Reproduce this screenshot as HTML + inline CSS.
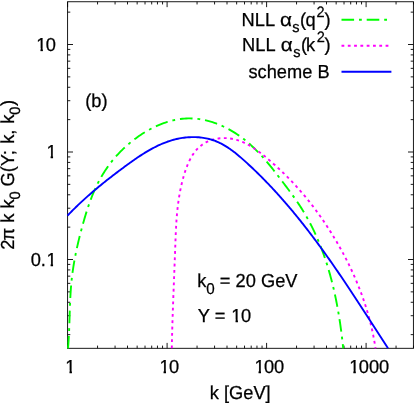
<!DOCTYPE html>
<html><head><meta charset="utf-8"><style>
html,body{margin:0;padding:0;background:#fff;overflow:hidden;}
svg{display:block;will-change:transform;opacity:0.999;font-family:"Liberation Sans",sans-serif;font-size:18.25px;fill:#000;text-rendering:geometricPrecision;}
.sub{font-size:14.6px;}.sub0{font-size:15.2px;}
</style></head><body>
<svg width="414" height="404" viewBox="0 0 414 404">
<defs><clipPath id="c1"><path d="M-2 -20H14V-2.4H6.6V1H4.2V-2.4H-2Z"/></clipPath></defs>
<rect width="414" height="404" fill="#fff"/>
<g fill="none" stroke="#000" stroke-width="0.9">
<rect x="67.6" y="1.75" width="345.80" height="346.55"/>
<path d="M67.60 348.30 v-5.40 M67.60 1.75 v5.40 M97.55 348.30 v-2.70 M97.55 1.75 v2.70 M115.07 348.30 v-2.70 M115.07 1.75 v2.70 M127.50 348.30 v-2.70 M127.50 1.75 v2.70 M137.15 348.30 v-2.70 M137.15 1.75 v2.70 M145.03 348.30 v-2.70 M145.03 1.75 v2.70 M151.69 348.30 v-2.70 M151.69 1.75 v2.70 M157.46 348.30 v-2.70 M157.46 1.75 v2.70 M162.55 348.30 v-2.70 M162.55 1.75 v2.70 M167.10 348.30 v-5.40 M167.10 1.75 v5.40 M197.05 348.30 v-2.70 M197.05 1.75 v2.70 M214.57 348.30 v-2.70 M214.57 1.75 v2.70 M227.00 348.30 v-2.70 M227.00 1.75 v2.70 M236.65 348.30 v-2.70 M236.65 1.75 v2.70 M244.53 348.30 v-2.70 M244.53 1.75 v2.70 M251.19 348.30 v-2.70 M251.19 1.75 v2.70 M256.96 348.30 v-2.70 M256.96 1.75 v2.70 M262.05 348.30 v-2.70 M262.05 1.75 v2.70 M266.60 348.30 v-5.40 M266.60 1.75 v5.40 M296.55 348.30 v-2.70 M296.55 1.75 v2.70 M314.07 348.30 v-2.70 M314.07 1.75 v2.70 M326.50 348.30 v-2.70 M326.50 1.75 v2.70 M336.15 348.30 v-2.70 M336.15 1.75 v2.70 M344.03 348.30 v-2.70 M344.03 1.75 v2.70 M350.69 348.30 v-2.70 M350.69 1.75 v2.70 M356.46 348.30 v-2.70 M356.46 1.75 v2.70 M361.55 348.30 v-2.70 M361.55 1.75 v2.70 M366.10 348.30 v-5.40 M366.10 1.75 v5.40 M396.05 348.30 v-2.70 M396.05 1.75 v2.70 M413.57 348.30 v-2.70 M413.57 1.75 v2.70 M67.60 334.64 h2.70 M413.40 334.64 h-2.70 M67.60 315.71 h2.70 M413.40 315.71 h-2.70 M67.60 302.28 h2.70 M413.40 302.28 h-2.70 M67.60 291.86 h2.70 M413.40 291.86 h-2.70 M67.60 283.35 h2.70 M413.40 283.35 h-2.70 M67.60 276.15 h2.70 M413.40 276.15 h-2.70 M67.60 269.92 h2.70 M413.40 269.92 h-2.70 M67.60 264.42 h2.70 M413.40 264.42 h-2.70 M67.60 259.50 h5.40 M413.40 259.50 h-5.40 M67.60 227.14 h2.70 M413.40 227.14 h-2.70 M67.60 208.21 h2.70 M413.40 208.21 h-2.70 M67.60 194.78 h2.70 M413.40 194.78 h-2.70 M67.60 184.36 h2.70 M413.40 184.36 h-2.70 M67.60 175.85 h2.70 M413.40 175.85 h-2.70 M67.60 168.65 h2.70 M413.40 168.65 h-2.70 M67.60 162.42 h2.70 M413.40 162.42 h-2.70 M67.60 156.92 h2.70 M413.40 156.92 h-2.70 M67.60 152.00 h5.40 M413.40 152.00 h-5.40 M67.60 119.64 h2.70 M413.40 119.64 h-2.70 M67.60 100.71 h2.70 M413.40 100.71 h-2.70 M67.60 87.28 h2.70 M413.40 87.28 h-2.70 M67.60 76.86 h2.70 M413.40 76.86 h-2.70 M67.60 68.35 h2.70 M413.40 68.35 h-2.70 M67.60 61.15 h2.70 M413.40 61.15 h-2.70 M67.60 54.92 h2.70 M413.40 54.92 h-2.70 M67.60 49.42 h2.70 M413.40 49.42 h-2.70 M67.60 44.50 h5.40 M413.40 44.50 h-5.40 M67.60 12.14 h2.70 M413.40 12.14 h-2.70"/>
</g>
<g fill="none" stroke-width="1.9">
<path d="M68.00 348.40 L68.16 346.45 L68.32 344.51 L68.45 342.56 L68.58 340.61 L68.70 338.66 L68.81 336.71 L68.91 334.76 L69.01 332.81 L69.09 330.86 L69.17 328.91 L69.25 326.95 L69.32 325.00 L69.39 323.05 L69.45 321.09 L69.52 319.14 L69.58 317.19 L69.64 315.23 L69.70 313.28 L69.76 311.33 L69.83 309.38 L69.90 307.42 L69.97 305.47 L70.05 303.52 L70.13 301.57 L70.22 299.62 L70.31 297.67 L70.42 295.73 L70.53 293.78 L70.65 291.83 L70.78 289.89 L70.92 287.95 L71.08 286.01 L71.24 284.07 L71.42 282.13 L71.62 280.19 L71.83 278.25 L72.05 276.32 L72.29 274.39 L72.54 272.46 L72.81 270.53 L73.10 268.60 L73.39 266.67 L73.70 264.75 L74.02 262.83 L74.36 260.91 L74.70 258.99 L75.06 257.07 L75.43 255.15 L75.82 253.24 L76.21 251.32 L76.62 249.41 L77.03 247.50 L77.46 245.59 L77.89 243.68 L78.34 241.78 L78.80 239.87 L79.26 237.97 L79.73 236.07 L80.22 234.17 L80.71 232.27 L81.21 230.37 L81.71 228.47 L82.23 226.58 L82.75 224.68 L83.28 222.79 L83.81 220.90 L84.36 219.01 L84.91 217.13 L85.48 215.25 L86.05 213.37 L86.64 211.50 L87.24 209.63 L87.85 207.77 L88.47 205.92 L89.11 204.07 L89.77 202.23 L90.44 200.40 L91.12 198.58 L91.83 196.77 L92.55 194.96 L93.29 193.17 L94.04 191.39 L94.82 189.62 L95.62 187.86 L96.44 186.11 L97.28 184.38 L98.15 182.66 L99.03 180.96 L99.95 179.26 L100.88 177.59 L101.84 175.93 L102.83 174.28 L103.84 172.65 L104.87 171.04 L105.93 169.44 L107.02 167.85 L108.13 166.29 L109.26 164.73 L110.42 163.19 L111.61 161.67 L112.82 160.17 L114.06 158.68 L115.32 157.20 L116.61 155.74 L117.93 154.30 L119.27 152.87 L120.64 151.46 L122.03 150.07 L123.45 148.69 L124.90 147.33 L126.37 145.99 L127.87 144.67 L129.39 143.37 L130.93 142.09 L132.49 140.83 L134.07 139.60 L135.68 138.39 L137.30 137.21 L138.95 136.05 L140.61 134.92 L142.29 133.82 L143.99 132.75 L145.70 131.71 L147.43 130.70 L149.18 129.72 L150.94 128.78 L152.71 127.87 L154.49 126.99 L156.29 126.16 L158.10 125.35 L159.92 124.59 L161.75 123.87 L163.59 123.19 L165.44 122.54 L167.30 121.95 L169.17 121.39 L171.04 120.88 L172.91 120.41 L174.80 119.99 L176.69 119.62 L178.58 119.29 L180.47 119.02 L182.37 118.79 L184.27 118.61 L186.17 118.49 L188.07 118.42 L189.97 118.40 L191.87 118.44 L193.77 118.54 L195.67 118.68 L197.56 118.88 L199.45 119.12 L201.34 119.42 L203.22 119.77 L205.09 120.16 L206.96 120.60 L208.82 121.09 L210.67 121.62 L212.52 122.19 L214.35 122.81 L216.18 123.46 L217.99 124.16 L219.79 124.90 L221.58 125.68 L223.36 126.49 L225.12 127.34 L226.87 128.23 L228.61 129.15 L230.32 130.11 L232.03 131.10 L233.71 132.12 L235.38 133.17 L237.02 134.25 L238.65 135.36 L240.26 136.49 L241.85 137.66 L243.41 138.85 L244.96 140.06 L246.48 141.30 L247.98 142.56 L249.46 143.84 L250.92 145.14 L252.35 146.46 L253.77 147.81 L255.17 149.17 L256.56 150.55 L257.93 151.95 L259.28 153.36 L260.61 154.79 L261.93 156.23 L263.24 157.69 L264.53 159.16 L265.82 160.64 L267.09 162.14 L268.35 163.64 L269.60 165.15 L270.84 166.68 L272.07 168.21 L273.29 169.75 L274.51 171.29 L275.71 172.84 L276.92 174.40 L278.12 175.96 L279.31 177.52 L280.50 179.08 L281.69 180.65 L282.87 182.21 L284.06 183.78 L285.24 185.35 L286.42 186.91 L287.60 188.48 L288.77 190.05 L289.93 191.63 L291.09 193.20 L292.24 194.78 L293.38 196.37 L294.52 197.96 L295.64 199.55 L296.75 201.15 L297.84 202.76 L298.93 204.37 L300.00 206.00 L301.05 207.63 L302.09 209.27 L303.11 210.92 L304.12 212.58 L305.11 214.25 L306.08 215.93 L307.04 217.62 L307.98 219.31 L308.91 221.01 L309.82 222.72 L310.72 224.44 L311.60 226.17 L312.46 227.91 L313.31 229.65 L314.15 231.40 L314.97 233.16 L315.78 234.92 L316.57 236.69 L317.35 238.47 L318.12 240.26 L318.87 242.05 L319.61 243.85 L320.33 245.65 L321.05 247.46 L321.74 249.28 L322.43 251.10 L323.10 252.93 L323.76 254.76 L324.41 256.60 L325.04 258.45 L325.66 260.29 L326.27 262.15 L326.87 264.01 L327.45 265.87 L328.02 267.74 L328.58 269.61 L329.13 271.49 L329.67 273.37 L330.20 275.25 L330.71 277.14 L331.22 279.04 L331.71 280.93 L332.20 282.83 L332.67 284.73 L333.13 286.64 L333.58 288.54 L334.02 290.46 L334.45 292.37 L334.87 294.28 L335.29 296.20 L335.69 298.12 L336.08 300.04 L336.46 301.97 L336.84 303.89 L337.20 305.82 L337.56 307.75 L337.90 309.68 L338.24 311.61 L338.57 313.54 L338.89 315.47 L339.21 317.41 L339.51 319.34 L339.81 321.27 L340.10 323.21 L340.38 325.14 L340.65 327.08 L340.92 329.01 L341.18 330.94 L341.43 332.87 L341.67 334.81 L341.91 336.74 L342.14 338.67 L342.37 340.60 L342.58 342.53 L342.79 344.45 L343.00 346.38 L343.20 348.30" stroke="#00ff00" stroke-dasharray="12.6 4.9 2.8 4.9"/>
<path d="M171.80 348.30 L171.83 346.63 L171.86 344.95 L171.90 343.28 L171.93 341.60 L171.97 339.92 L172.01 338.24 L172.05 336.56 L172.09 334.87 L172.14 333.19 L172.18 331.50 L172.23 329.82 L172.28 328.13 L172.33 326.44 L172.38 324.75 L172.43 323.06 L172.48 321.37 L172.53 319.67 L172.59 317.98 L172.64 316.29 L172.70 314.59 L172.76 312.90 L172.82 311.20 L172.88 309.50 L172.94 307.81 L173.00 306.11 L173.06 304.41 L173.12 302.71 L173.18 301.02 L173.24 299.32 L173.31 297.62 L173.37 295.92 L173.44 294.22 L173.50 292.52 L173.57 290.83 L173.63 289.13 L173.70 287.43 L173.77 285.73 L173.83 284.03 L173.90 282.34 L173.96 280.64 L174.03 278.94 L174.10 277.25 L174.16 275.55 L174.23 273.86 L174.30 272.16 L174.36 270.47 L174.43 268.78 L174.49 267.08 L174.56 265.39 L174.62 263.70 L174.69 262.01 L174.75 260.32 L174.82 258.64 L174.88 256.95 L174.94 255.27 L175.01 253.58 L175.07 251.90 L175.13 250.22 L175.19 248.54 L175.25 246.86 L175.31 245.18 L175.37 243.51 L175.43 241.83 L175.49 240.16 L175.55 238.49 L175.62 236.82 L175.69 235.15 L175.76 233.48 L175.83 231.81 L175.91 230.14 L176.00 228.47 L176.09 226.80 L176.18 225.13 L176.28 223.47 L176.39 221.80 L176.50 220.13 L176.63 218.47 L176.76 216.80 L176.90 215.13 L177.04 213.47 L177.20 211.80 L177.37 210.13 L177.55 208.46 L177.74 206.79 L177.94 205.12 L178.15 203.45 L178.38 201.78 L178.61 200.11 L178.87 198.44 L179.13 196.76 L179.41 195.09 L179.71 193.41 L180.02 191.73 L180.34 190.05 L180.68 188.37 L181.04 186.69 L181.42 185.01 L181.81 183.32 L182.23 181.64 L182.66 179.95 L183.11 178.26 L183.58 176.57 L184.07 174.87 L184.58 173.19 L185.12 171.51 L185.68 169.83 L186.27 168.18 L186.89 166.54 L187.54 164.91 L188.22 163.31 L188.93 161.74 L189.68 160.19 L190.47 158.67 L191.29 157.19 L192.14 155.74 L193.04 154.34 L193.98 152.97 L194.97 151.66 L195.99 150.39 L197.07 149.18 L198.19 148.02 L199.36 146.92 L200.58 145.88 L201.85 144.90 L203.18 144.00 L204.55 143.15 L205.96 142.37 L207.42 141.66 L208.91 141.01 L210.43 140.43 L211.99 139.92 L213.57 139.47 L215.18 139.08 L216.81 138.76 L218.45 138.50 L220.11 138.31 L221.77 138.18 L223.45 138.12 L225.12 138.12 L226.80 138.18 L228.47 138.31 L230.13 138.51 L231.79 138.76 L233.43 139.08 L235.05 139.47 L236.67 139.91 L238.26 140.41 L239.85 140.96 L241.41 141.56 L242.97 142.22 L244.51 142.92 L246.04 143.67 L247.55 144.46 L249.05 145.28 L250.54 146.15 L252.01 147.05 L253.47 147.98 L254.92 148.95 L256.35 149.94 L257.77 150.95 L259.18 151.99 L260.58 153.04 L261.96 154.12 L263.34 155.21 L264.70 156.31 L266.05 157.43 L267.38 158.55 L268.71 159.67 L270.02 160.80 L271.32 161.93 L272.61 163.06 L273.89 164.20 L275.16 165.33 L276.42 166.47 L277.67 167.61 L278.91 168.75 L280.14 169.90 L281.36 171.05 L282.57 172.20 L283.77 173.36 L284.97 174.52 L286.16 175.69 L287.33 176.87 L288.50 178.05 L289.67 179.24 L290.82 180.43 L291.97 181.63 L293.12 182.84 L294.25 184.06 L295.38 185.29 L296.51 186.52 L297.63 187.76 L298.74 189.01 L299.85 190.27 L300.94 191.53 L302.04 192.80 L303.12 194.08 L304.21 195.37 L305.28 196.66 L306.35 197.96 L307.41 199.27 L308.46 200.58 L309.51 201.90 L310.55 203.23 L311.59 204.56 L312.62 205.90 L313.64 207.24 L314.66 208.60 L315.67 209.95 L316.67 211.32 L317.67 212.68 L318.66 214.06 L319.64 215.44 L320.62 216.82 L321.59 218.21 L322.56 219.61 L323.51 221.01 L324.46 222.41 L325.41 223.82 L326.35 225.24 L327.28 226.66 L328.20 228.08 L329.12 229.51 L330.03 230.94 L330.94 232.38 L331.83 233.82 L332.72 235.26 L333.61 236.71 L334.48 238.16 L335.36 239.61 L336.22 241.07 L337.08 242.54 L337.92 244.00 L338.77 245.47 L339.60 246.95 L340.43 248.42 L341.25 249.90 L342.06 251.39 L342.87 252.88 L343.67 254.37 L344.46 255.86 L345.24 257.36 L346.02 258.86 L346.79 260.37 L347.55 261.88 L348.30 263.39 L349.05 264.91 L349.78 266.43 L350.51 267.95 L351.23 269.48 L351.94 271.01 L352.65 272.54 L353.35 274.08 L354.03 275.62 L354.71 277.17 L355.39 278.71 L356.05 280.26 L356.70 281.82 L357.35 283.38 L357.99 284.94 L358.61 286.50 L359.23 288.07 L359.85 289.64 L360.45 291.21 L361.04 292.79 L361.63 294.37 L362.20 295.96 L362.77 297.54 L363.32 299.13 L363.87 300.73 L364.41 302.33 L364.94 303.93 L365.46 305.53 L365.97 307.14 L366.47 308.75 L366.96 310.36 L367.45 311.97 L367.92 313.59 L368.38 315.22 L368.83 316.84 L369.28 318.47 L369.71 320.10 L370.13 321.74 L370.55 323.37 L370.95 325.02 L371.34 326.66 L371.72 328.31 L372.10 329.96 L372.46 331.61 L372.81 333.26 L373.15 334.92 L373.48 336.59 L373.80 338.25 L374.11 339.92 L374.41 341.59 L374.70 343.26 L374.98 344.94 L375.24 346.62 L375.50 348.30" stroke="#ff00ff" stroke-dasharray="2.8 3.5"/>
<path d="M67.50 215.60 L68.56 214.50 L69.62 213.41 L70.69 212.33 L71.75 211.25 L72.82 210.18 L73.89 209.12 L74.97 208.07 L76.04 207.02 L77.12 205.98 L78.20 204.94 L79.29 203.92 L80.37 202.90 L81.46 201.88 L82.56 200.87 L83.65 199.87 L84.75 198.87 L85.85 197.88 L86.95 196.89 L88.06 195.91 L89.17 194.93 L90.28 193.96 L91.39 192.99 L92.51 192.03 L93.63 191.07 L94.76 190.11 L95.88 189.16 L97.01 188.22 L98.15 187.28 L99.28 186.34 L100.42 185.41 L101.56 184.47 L102.71 183.55 L103.86 182.62 L105.01 181.70 L106.16 180.78 L107.32 179.87 L108.48 178.95 L109.65 178.04 L110.82 177.13 L111.99 176.23 L113.16 175.32 L114.34 174.42 L115.53 173.52 L116.71 172.62 L117.90 171.72 L119.09 170.82 L120.29 169.93 L121.49 169.03 L122.69 168.14 L123.90 167.25 L125.11 166.35 L126.33 165.46 L127.55 164.57 L128.77 163.69 L130.00 162.80 L131.23 161.92 L132.47 161.04 L133.71 160.17 L134.95 159.31 L136.20 158.45 L137.46 157.59 L138.72 156.75 L139.98 155.91 L141.25 155.09 L142.53 154.27 L143.81 153.46 L145.10 152.67 L146.39 151.88 L147.69 151.11 L148.99 150.36 L150.30 149.61 L151.62 148.88 L152.94 148.17 L154.27 147.47 L155.61 146.79 L156.95 146.13 L158.30 145.48 L159.66 144.85 L161.02 144.25 L162.40 143.66 L163.77 143.09 L165.16 142.55 L166.55 142.02 L167.96 141.52 L169.37 141.04 L170.78 140.59 L172.21 140.16 L173.64 139.76 L175.08 139.38 L176.53 139.03 L177.99 138.71 L179.46 138.42 L180.94 138.15 L182.42 137.92 L183.90 137.71 L185.39 137.53 L186.89 137.38 L188.38 137.27 L189.88 137.18 L191.38 137.12 L192.88 137.10 L194.37 137.11 L195.87 137.14 L197.36 137.21 L198.84 137.32 L200.32 137.46 L201.80 137.63 L203.26 137.83 L204.72 138.07 L206.17 138.34 L207.61 138.65 L209.04 138.99 L210.46 139.37 L211.87 139.78 L213.26 140.24 L214.63 140.72 L215.99 141.25 L217.34 141.81 L218.67 142.40 L219.98 143.02 L221.29 143.68 L222.58 144.37 L223.85 145.08 L225.12 145.83 L226.37 146.60 L227.61 147.39 L228.84 148.21 L230.06 149.05 L231.27 149.91 L232.47 150.79 L233.66 151.69 L234.84 152.60 L236.01 153.54 L237.18 154.48 L238.34 155.44 L239.49 156.41 L240.63 157.39 L241.77 158.38 L242.90 159.38 L244.03 160.38 L245.15 161.39 L246.27 162.41 L247.38 163.42 L248.49 164.44 L249.59 165.47 L250.69 166.49 L251.79 167.53 L252.88 168.56 L253.97 169.60 L255.05 170.64 L256.14 171.68 L257.21 172.73 L258.28 173.78 L259.35 174.83 L260.42 175.89 L261.48 176.95 L262.53 178.01 L263.59 179.08 L264.64 180.15 L265.68 181.22 L266.72 182.29 L267.76 183.37 L268.80 184.45 L269.83 185.54 L270.85 186.62 L271.88 187.71 L272.90 188.81 L273.91 189.90 L274.93 191.00 L275.94 192.10 L276.94 193.20 L277.94 194.31 L278.94 195.42 L279.94 196.53 L280.93 197.65 L281.92 198.76 L282.91 199.88 L283.89 201.01 L284.87 202.13 L285.85 203.26 L286.82 204.39 L287.79 205.52 L288.76 206.66 L289.72 207.79 L290.68 208.93 L291.64 210.08 L292.60 211.22 L293.55 212.37 L294.50 213.52 L295.45 214.67 L296.39 215.82 L297.33 216.98 L298.27 218.14 L299.21 219.30 L300.14 220.46 L301.07 221.62 L302.00 222.79 L302.92 223.96 L303.84 225.13 L304.76 226.30 L305.68 227.48 L306.59 228.66 L307.51 229.83 L308.42 231.01 L309.32 232.20 L310.23 233.38 L311.13 234.57 L312.03 235.76 L312.93 236.95 L313.82 238.14 L314.72 239.33 L315.61 240.53 L316.50 241.73 L317.38 242.92 L318.27 244.12 L319.15 245.33 L320.03 246.53 L320.91 247.74 L321.79 248.94 L322.66 250.15 L323.53 251.36 L324.41 252.57 L325.27 253.78 L326.14 255.00 L327.01 256.21 L327.87 257.43 L328.73 258.65 L329.59 259.87 L330.45 261.09 L331.30 262.31 L332.16 263.54 L333.01 264.76 L333.86 265.99 L334.71 267.21 L335.56 268.44 L336.41 269.67 L337.25 270.90 L338.10 272.13 L338.94 273.37 L339.78 274.60 L340.62 275.83 L341.46 277.07 L342.30 278.31 L343.13 279.54 L343.97 280.78 L344.80 282.02 L345.63 283.26 L346.46 284.50 L347.29 285.75 L348.12 286.99 L348.95 288.23 L349.78 289.48 L350.60 290.72 L351.43 291.97 L352.25 293.21 L353.07 294.46 L353.89 295.71 L354.72 296.95 L355.54 298.20 L356.35 299.45 L357.17 300.70 L357.99 301.95 L358.81 303.20 L359.62 304.45 L360.44 305.70 L361.26 306.95 L362.07 308.21 L362.88 309.46 L363.70 310.71 L364.51 311.96 L365.32 313.22 L366.14 314.47 L366.95 315.72 L367.76 316.98 L368.57 318.23 L369.38 319.48 L370.19 320.74 L371.00 321.99 L371.81 323.25 L372.62 324.50 L373.43 325.75 L374.24 327.01 L375.05 328.26 L375.86 329.52 L376.67 330.77 L377.47 332.02 L378.28 333.28 L379.09 334.53 L379.90 335.78 L380.71 337.04 L381.52 338.29 L382.33 339.54 L383.14 340.79 L383.95 342.05 L384.76 343.30 L385.57 344.55 L386.38 345.80 L387.19 347.05 L388.00 348.30" stroke="#0000ff"/>
<path d="M341.5 19.8 H387.3" stroke="#00ff00" stroke-dasharray="12.6 4.9 2.8 4.9"/>
<path d="M341.5 45.7 H391.4" stroke="#ff00ff" stroke-dasharray="2.8 3.5"/>
<path d="M341.5 71.7 H391.4" stroke="#0000ff"/>
</g>
<g stroke="#000" stroke-width="0.25">
<text transform="translate(36.30 50.6) scale(1 1.03)" clip-path="url(#c1)">1</text>
<text transform="translate(45.85 50.6) scale(1 1.03)">0</text>
<text transform="translate(46.45 158) scale(1 1.03)" clip-path="url(#c1)">1</text>
<text transform="translate(30.63 266) scale(1 1.03)">0.</text>
<text transform="translate(46.45 266) scale(1 1.03)" clip-path="url(#c1)">1</text>
<text transform="translate(65.33 373) scale(1 1.03)" clip-path="url(#c1)">1</text>
<text transform="translate(159.40 373) scale(1 1.03)" clip-path="url(#c1)">1</text>
<text transform="translate(168.95 373) scale(1 1.03)">0</text>
<text transform="translate(254.38 373) scale(1 1.03)" clip-path="url(#c1)">1</text>
<text transform="translate(263.93 373) scale(1 1.03)">00</text>
<text transform="translate(349.20 373) scale(1 1.03)" clip-path="url(#c1)">1</text>
<text transform="translate(358.75 373) scale(1 1.03)">000</text>
<text transform="translate(240.2 399.4) scale(1 1.03)" text-anchor="middle">k [GeV]</text>
<text transform="translate(85.2 107.2) scale(1 1.03)">(b)</text>
<text transform="translate(197.2 287.3) scale(1 1.03)">k<tspan class="sub0" dy="6.31">0</tspan><tspan dy="-6.31" dx="0"> = 20 GeV</tspan></text>
<text transform="translate(197.8 322) scale(1 1.03)">Y = </text>
<text transform="translate(231.37 322) scale(1 1.03)" clip-path="url(#c1)">1</text>
<text transform="translate(240.92 322) scale(1 1.03)">0</text>
<text transform="translate(241.6 26) scale(1 1.03)">NLL</text>
<text transform="translate(280.0 26) scale(1 1.03)" textLength="12" lengthAdjust="spacingAndGlyphs">α</text>
<text transform="translate(292.3 31.8) scale(1 1.03)" class="sub">s</text>
<text transform="translate(300.0 26) scale(1 1.03)">(</text>
<text transform="translate(305.5 26) scale(1 1.03)">q</text>
<text transform="translate(316.5 16.6) scale(1 1.03)" class="sub">2</text>
<text transform="translate(324.5 26) scale(1 1.03)">)</text>
<text transform="translate(242.1 51.4) scale(1 1.03)">NLL</text>
<text transform="translate(280.8 51.4) scale(1 1.03)" textLength="12" lengthAdjust="spacingAndGlyphs">α</text>
<text transform="translate(293.2 57.2) scale(1 1.03)" class="sub">s</text>
<text transform="translate(301.0 51.4) scale(1 1.03)">(</text>
<text transform="translate(306.0 51.4) scale(1 1.03)">k</text>
<text transform="translate(316.7 42.0) scale(1 1.03)" class="sub">2</text>
<text transform="translate(324.6 51.4) scale(1 1.03)">)</text>
<text transform="translate(329.6 77.6) scale(1 1.03)" text-anchor="end">scheme B</text>
<text transform="translate(14.2 249.7) rotate(-90) scale(1 1.03)">2<tspan dx="-0.9">π</tspan> k k<tspan class="sub" dy="5.53">0</tspan><tspan dy="-5.53" dx="-0.2"> G(Y;</tspan><tspan dx="1.3"> k,</tspan><tspan dx="0.6"> k</tspan><tspan class="sub" dy="5.53">0</tspan><tspan dy="-5.53" dx="0.6">)</tspan></text>
</g>
</svg>
</body></html>
